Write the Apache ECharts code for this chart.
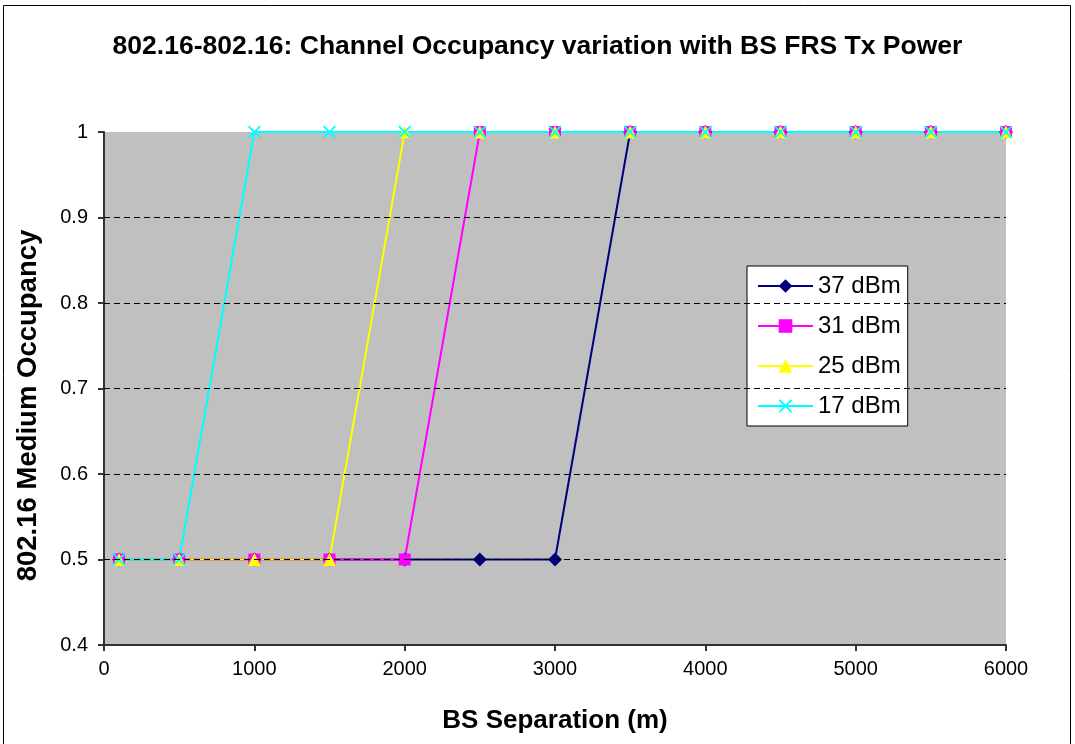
<!DOCTYPE html>
<html>
<head>
<meta charset="utf-8">
<script src="https://cdn.jsdelivr.net/npm/echarts@6/dist/echarts.min.js"></script>
<style>
  html, body { margin: 0; padding: 0; background: #fff; }
  #chart { width: 1075px; height: 744px; }
</style>
</head>
<body>
<div id="chart"></div>
<script>
// distances in metres
const separation = [100, 500, 1000, 1500, 2000, 2500, 3000, 3500, 4000, 4500, 5000, 5500, 6000];
const occ37 = [0.5, 0.5, 0.5, 0.5, 0.5, 0.5, 0.5, 1, 1, 1, 1, 1, 1];
const occ31 = [0.5, 0.5, 0.5, 0.5, 0.5, 1, 1, 1, 1, 1, 1, 1, 1];
const occ25 = [0.5, 0.5, 0.5, 0.5, 1, 1, 1, 1, 1, 1, 1, 1, 1];
const occ17 = [0.5, 0.5, 1, 1, 1, 1, 1, 1, 1, 1, 1, 1, 1];
const seriesNames = ['37 dBm', '31 dBm', '25 dBm', '17 dBm'];
// dashed gridlines (none on the top edge at 1)
const gridValues = [0.5, 0.6, 0.7, 0.8, 0.9];

const font = 'Liberation Sans, Arial, sans-serif';
const crossPath = 'path://M0,1L1,0L5,4L9,0L10,1L6,5L10,9L9,10L5,6L1,10L0,9L4,5Z';

function pairs(ys) {
    return separation.map((x, i) => [x, ys[i]]);
}

function makeSeries(name, ys, color, symbol, size) {
    return {
        name: name,
        type: 'line',
        z: 3,
        data: pairs(ys),
        symbol: symbol,
        symbolSize: size,
        showAllSymbol: true,
        lineStyle: { color: color, width: 2 },
        itemStyle: { color: color },
        animation: false
    };
}

const chart = echarts.init(document.getElementById('chart'));
chart.setOption({
    backgroundColor: '#fff',
    title: {
        text: '802.16-802.16: Channel Occupancy variation with BS FRS Tx Power',
        left: 'center',
        top: 28,
        textStyle: { fontFamily: font, fontSize: 26.5, fontWeight: 'bold', color: '#000' }
    },
    graphic: [{
        type: 'rect',
        shape: { x: 3.5, y: 5.5, width: 1067, height: 745 },
        style: { fill: 'none', stroke: '#000', lineWidth: 1 },
        silent: true
    }],
    legend: {
        orient: 'vertical',
        left: 747,
        top: 266,
        padding: [8, 7, 8, 10],
        itemGap: 16,
        itemWidth: 55,
        itemHeight: 17,
        backgroundColor: '#fff',
        borderColor: '#000',
        borderWidth: 1,
        borderRadius: 0,
        data: seriesNames,
        textStyle: { fontFamily: font, fontSize: 24, color: '#000' }
    },
    grid: {
        left: 104, right: 69, top: 132, bottom: 99,
        show: true,
        backgroundColor: '#c0c0c0',
        borderWidth: 0
    },
    xAxis: {
        type: 'value',
        min: 0, max: 6000, interval: 1000,
        name: 'BS Separation (m)',
        nameLocation: 'middle',
        nameGap: 63,
        nameTextStyle: { fontFamily: font, fontSize: 26, fontWeight: 'bold', color: '#000' },
        axisLine: { lineStyle: { color: '#333', width: 2 } },
        axisTick: { show: true, length: 6, lineStyle: { color: '#333', width: 2 } },
        axisLabel: {
            fontFamily: font, fontSize: 20, color: '#000', margin: 14,
            formatter: v => String(v)
        },
        splitLine: { show: false }
    },
    yAxis: {
        type: 'value',
        min: 0.4, max: 1, interval: 0.1,
        name: '802.16 Medium Occupancy',
        nameLocation: 'middle',
        nameGap: 62,
        nameTextStyle: {
            fontFamily: font, fontSize: 27.5, fontWeight: 'bold', color: '#000',
            padding: [0, 34, 0, 0]
        },
        axisLine: { show: true, lineStyle: { color: '#333', width: 2 } },
        axisTick: { show: true, length: 6, lineStyle: { color: '#333', width: 2 } },
        axisLabel: {
            fontFamily: font, fontSize: 20, color: '#000', margin: 16,
            formatter: v => String(Math.round(v * 10) / 10)
        },
        splitLine: { show: false }
    },
    series: [
        {
            name: 'grid',
            type: 'line',
            z: 1,
            data: [],
            silent: true,
            markLine: {
                silent: true,
                symbol: 'none',
                label: { show: false },
                animation: false,
                lineStyle: { color: '#000', type: [6, 4], width: 1 },
                data: gridValues.map(v => ({ yAxis: v }))
            }
        },
        makeSeries(seriesNames[0], occ37, '#000080', 'diamond', 14),
        makeSeries(seriesNames[1], occ31, '#ff00ff', 'rect', 12),
        makeSeries(seriesNames[2], occ25, '#ffff00', 'triangle', 13),
        makeSeries(seriesNames[3], occ17, '#00ffff', crossPath, 13)
    ]
});
</script>
</body>
</html>
